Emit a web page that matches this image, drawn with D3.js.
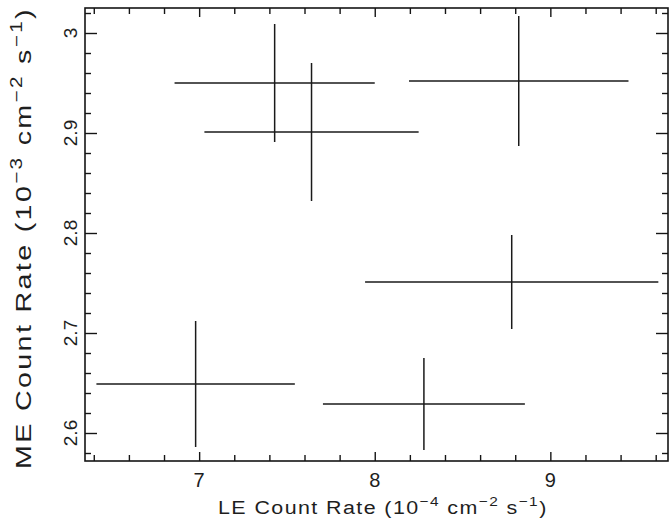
<!DOCTYPE html>
<html>
<head>
<meta charset="utf-8">
<script src="https://cdn.jsdelivr.net/npm/d3@7"></script>
<style>
  html, body { margin: 0; padding: 0; background: #fff; }
  svg { display: block; }
  text { font-family: "Liberation Sans", Arial, sans-serif; fill: #1e1e1e; }
</style>
</head>
<body>
<svg id="chart" width="671" height="518"></svg>
<script>
// ---- data ----
const leRate = [7.43, 7.64, 8.82, 8.78, 6.98, 8.28];     // 10^-4 cm^-2 s^-1
const leErr  = [0.57, 0.61, 0.625, 0.835, 0.565, 0.575];
const meRate = [2.950, 2.901, 2.952, 2.751, 2.649, 2.629]; // 10^-3 cm^-2 s^-1
const meErr  = [0.059, 0.069, 0.065, 0.047, 0.063, 0.046];

const xTickLabels = [7, 8, 9];
const yTickLabels = [2.6, 2.7, 2.8, 2.9, 3];
const xMinorTicks = d3.range(64, 97, 2).map(v => v / 10);      // every 0.2
const yMinorTicks = d3.range(129, 152, 1).map(v => v / 50);    // every 0.02

const xDomain = [6.35, 9.67];
const yDomain = [2.572, 3.025];

// ---- layout ----
const W = 671, H = 518;
const m = { left: 85, right: 3, top: 8, bottom: 57 };
const svg = d3.select("#chart");
const ink = "#151515";

const x = d3.scaleLinear().domain(xDomain).range([m.left, W - m.right]);
const y = d3.scaleLinear().domain(yDomain).range([H - m.bottom, m.top]);

const plotL = x.range()[0], plotR = x.range()[1];
const plotT = y.range()[1], plotB = y.range()[0];

const isMajorX = v => xTickLabels.some(t => Math.abs(t - v) < 1e-6);
const isMajorY = v => yTickLabels.some(t => Math.abs(t - v) < 1e-6);

const tickLenX = v => isMajorX(v) ? 9 : 6;
const tickLenY = v => isMajorY(v) ? 12 : 6;

function drawAxis(gen, transform) {
  const g = svg.append("g").attr("transform", transform).call(gen);
  g.select(".domain").remove();
  g.selectAll("line").attr("stroke", ink).attr("stroke-width", 1.4);
  g.selectAll("text").remove();
  return g;
}

// bottom
const gB = drawAxis(d3.axisTop(x).tickValues(xMinorTicks).tickSizeOuter(0), `translate(0,${plotB})`);
gB.selectAll(".tick line").attr("y2", d => -tickLenX(d));
// top
const gT = drawAxis(d3.axisBottom(x).tickValues(xMinorTicks).tickSizeOuter(0), `translate(0,${plotT})`);
gT.selectAll(".tick line").attr("y2", d => tickLenX(d));
// left
const gL = drawAxis(d3.axisRight(y).tickValues(yMinorTicks).tickSizeOuter(0), `translate(${plotL},0)`);
gL.selectAll(".tick line").attr("x2", d => tickLenY(d));
// right
const gR = drawAxis(d3.axisLeft(y).tickValues(yMinorTicks).tickSizeOuter(0), `translate(${plotR},0)`);
gR.selectAll(".tick line").attr("x2", d => -tickLenY(d));

// frame
svg.append("rect")
  .attr("x", plotL).attr("y", plotT)
  .attr("width", plotR - plotL).attr("height", plotB - plotT)
  .attr("fill", "none").attr("stroke", ink).attr("stroke-width", 1.6);

// tick labels
svg.append("g").selectAll("text").data(xTickLabels).join("text")
  .attr("x", d => x(d)).attr("y", 487)
  .attr("text-anchor", "middle")
  .attr("font-size", 20)
  .text(d => d3.format("d")(d));

svg.append("g").selectAll("text").data(yTickLabels).join("text")
  .attr("transform", d => `translate(77,${y(d)}) rotate(-90)`)
  .attr("text-anchor", "middle")
  .attr("font-size", 19)
  .text(d => (d === 3 ? "3" : d3.format(".1f")(d)));

// error-bar crosses
const pts = leRate.map((v, i) => ({ x: v, xe: leErr[i], y: meRate[i], ye: meErr[i] }));
const gP = svg.append("g").attr("stroke", "#1a1a1a").attr("stroke-width", 1.5);
gP.selectAll("line.h").data(pts).join("line").attr("class", "h")
  .attr("x1", d => x(d.x - d.xe)).attr("x2", d => x(d.x + d.xe))
  .attr("y1", d => y(d.y)).attr("y2", d => y(d.y));
gP.selectAll("line.v").data(pts).join("line").attr("class", "v")
  .attr("x1", d => x(d.x)).attr("x2", d => x(d.x))
  .attr("y1", d => y(d.y - d.ye)).attr("y2", d => y(d.y + d.ye));

// axis titles with superscripts, stretched to the reference length
function title(parts, fs) {
  const t = svg.append("text").attr("font-size", fs).attr("text-anchor", "start");
  let raised = false;
  parts.forEach(p => {
    const ts = t.append("tspan").text(p.s);
    if (p.sup) {
      ts.attr("dy", -fs * 0.42).attr("font-size", fs * 0.72);
      raised = true;
    } else if (raised) {
      ts.attr("dy", fs * 0.42);
      raised = false;
    }
  });
  return t;
}
function fit(t, targetLen, tx, ty, rot) {
  const w = t.node().getComputedTextLength();
  const sx = targetLen / w;
  t.attr("x", -w / 2).attr("y", 0)
   .attr("transform", `translate(${tx},${ty})${rot ? " rotate(-90)" : ""} scale(${sx},1)`);
}

const xt = title([{ s: "LE Count Rate (10" }, { s: "\u22124", sup: true }, { s: " cm" },
  { s: "\u22122", sup: true }, { s: " s" }, { s: "\u22121", sup: true }, { s: ")" }], 18);
xt.attr("letter-spacing", 1.2);
fit(xt, 330, 383, 514, false);

const yt = title([{ s: "ME Count Rate (10" }, { s: "\u22123", sup: true }, { s: " cm" },
  { s: "\u22122", sup: true }, { s: " s" }, { s: "\u22121", sup: true }, { s: ")" }], 22);
yt.attr("letter-spacing", 1.8);
fit(yt, 462, 31, 238, true);
</script>
</body>
</html>
